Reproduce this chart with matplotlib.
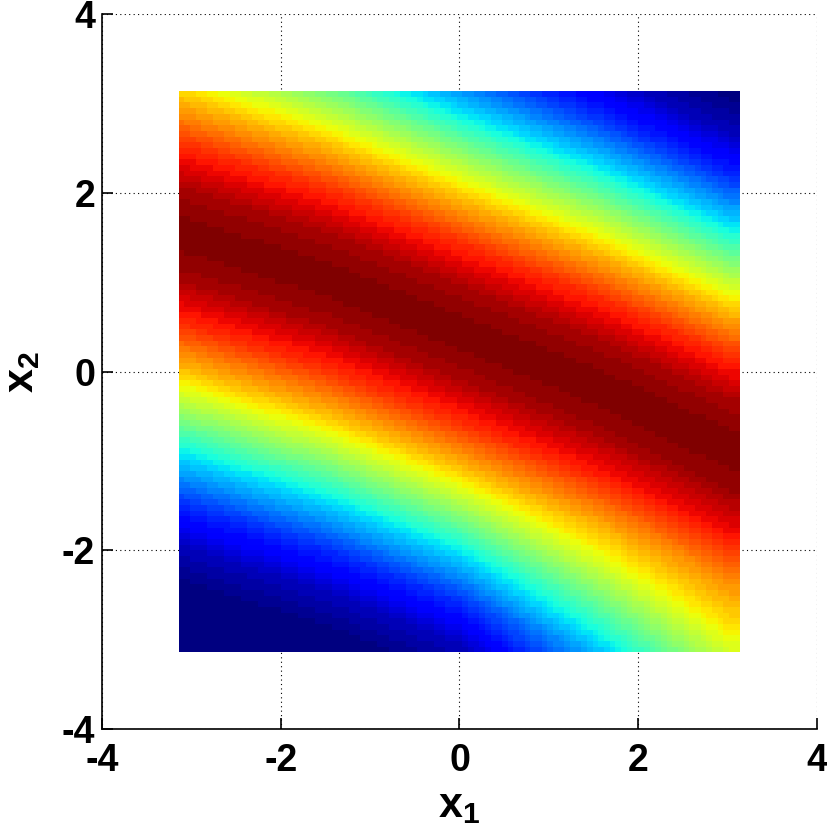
import numpy as np
import matplotlib.pyplot as plt

plt.rcParams['font.family'] = ['Liberation Sans', 'DejaVu Sans']
plt.rcParams['font.weight'] = 'bold'
plt.rcParams['axes.unicode_minus'] = False
plt.rcParams['mathtext.fontset'] = 'custom'
plt.rcParams['mathtext.bf'] = 'Liberation Sans:bold'
plt.rcParams['mathtext.rm'] = 'Liberation Sans:bold'

# x2 of the dark red ridge, read at a few x1 columns
ridge_x1 = [-3.1, -1.5, 0.0, 1.57, 3.0]
ridge_x2 = [1.5, 1.0, 0.4, -0.21, -0.87]

# colour level (0 = dark blue, 1 = dark red) vs vertical distance from the ridge
offset = [0.0, 0.5, 1.0, 1.5, 2.0, 2.5, 3.0, 3.5, 4.0, 4.5, 5.0]
level = [1.0, 0.96, 0.86, 0.71, 0.53, 0.34, 0.18, 0.06, 0.0, 0.0, 0.0]
# below the ridge at the right edge the colours fade more slowly
level_low_right = [1.0, 0.97, 0.89, 0.76, 0.67, 0.56, 0.43, 0.32, 0.22, 0.12, 0.05]

ticks = [-4, -2, 0, 2, 4]
n_grid = 100

# grid over [-pi, pi]^2, coloured from the readings above
g = np.linspace(-np.pi, np.pi, n_grid)
X1, X2 = np.meshgrid(g, g)
centre = np.interp(X1, ridge_x1, ridge_x2)
dist = X2 - centre
sym = np.interp(np.abs(dist), offset, level)
low_r = np.interp(np.abs(dist), offset, level_low_right)
w = np.interp(X1, [0.0, 3.0], [0.0, 1.0]) * (dist < 0)
C = (1 - w) * sym + w * low_r

fig = plt.figure(figsize=(8.27, 8.38), dpi=100)
ax = fig.add_axes([0.1233, 0.1301, 0.8646, 0.8526])

# pcolor style: each cell takes the colour of its lower-left node
ax.pcolormesh(X1, X2, C[:-1, :-1], cmap=plt.get_cmap('jet', 64),
              vmin=0, vmax=1, shading='flat')

ax.set_xlim(-4, 4)
ax.set_ylim(-4, 4)
ax.set_xticks(ticks)
ax.set_yticks(ticks)
ax.set_axisbelow(True)
ax.grid(True, color='black', linestyle=(0, (1, 3)), linewidth=0.8)

for side in ['top', 'right']:
    ax.spines[side].set_visible(False)
for side in ['left', 'bottom']:
    ax.spines[side].set_linewidth(1.2)

ax.tick_params(direction='in', length=8, width=1.2, labelsize=27)
ax.tick_params(axis='x', pad=10)
ax.tick_params(axis='y', pad=5)
for lab in ax.get_xticklabels() + ax.get_yticklabels():
    lab.set_fontweight('bold')

ax.set_xlabel(r'$\mathbf{x}_\mathbf{1}$', fontsize=31, labelpad=5)
ax.set_ylabel(r'$\mathbf{x}_\mathbf{2}$', fontsize=31, labelpad=14)

fig.savefig('out.png', dpi=100)
